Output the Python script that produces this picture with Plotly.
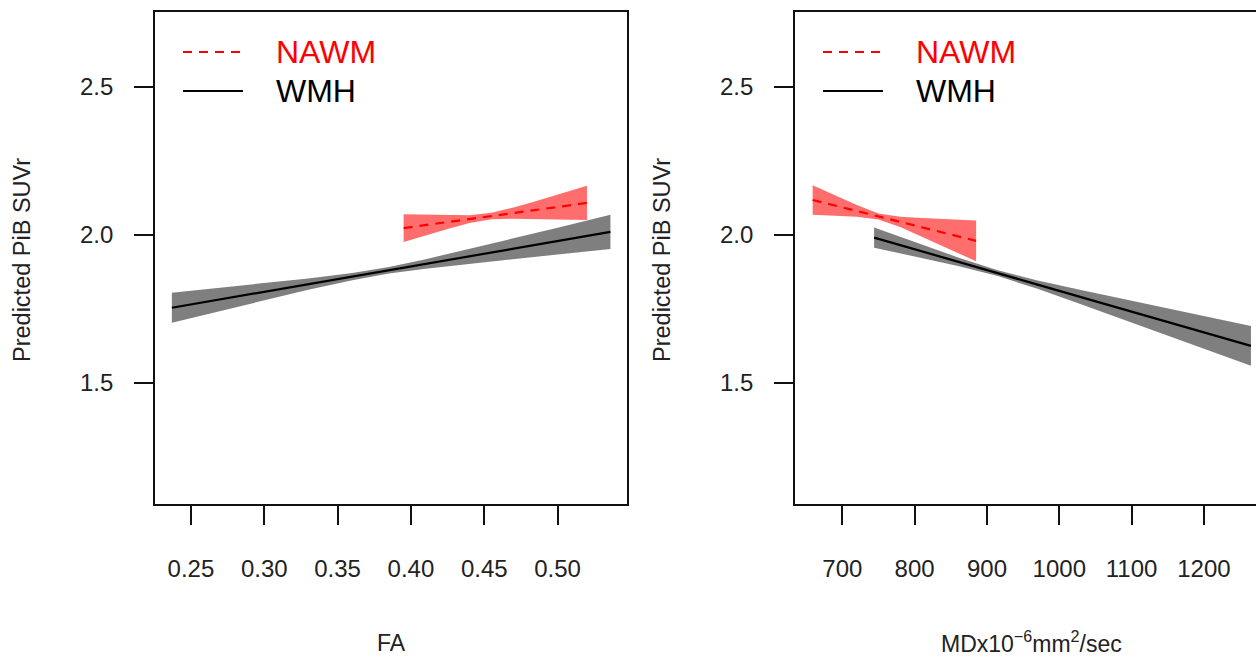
import plotly.graph_objects as go

W, H = 1256, 657
FONT = "Liberation Sans, Arial, Helvetica, sans-serif"

# ---------------- data ----------------
# Left panel: FA
fa_wmh_x = [0.237, 0.270, 0.300, 0.330, 0.360, 0.385, 0.410, 0.440, 0.470, 0.500, 0.536]
fa_wmh_fit = [1.754, 1.782, 1.808, 1.834, 1.859, 1.881, 1.902, 1.928, 1.953, 1.979, 2.010]
fa_wmh_up = [1.805, 1.822, 1.837, 1.853, 1.871, 1.892, 1.918, 1.953, 1.988, 2.024, 2.068]
fa_wmh_lo = [1.703, 1.743, 1.779, 1.815, 1.847, 1.870, 1.886, 1.903, 1.918, 1.934, 1.952]

fa_nawm_x = [0.395, 0.410, 0.425, 0.440, 0.455, 0.470, 0.485, 0.500, 0.520]
fa_nawm_fit = [2.023, 2.033, 2.043, 2.053, 2.064, 2.074, 2.084, 2.094, 2.108]
fa_nawm_up = [2.070, 2.068, 2.066, 2.066, 2.075, 2.093, 2.114, 2.136, 2.166]
fa_nawm_lo = [1.976, 1.998, 2.020, 2.040, 2.053, 2.055, 2.054, 2.052, 2.050]

# Right panel: MD
md_wmh_x = [744, 800, 860, 915, 970, 1030, 1090, 1150, 1210, 1265]
md_wmh_fit = [1.991, 1.951, 1.909, 1.871, 1.832, 1.790, 1.748, 1.706, 1.664, 1.625]
md_wmh_up = [2.025, 1.975, 1.924, 1.881, 1.846, 1.814, 1.783, 1.752, 1.721, 1.692]
md_wmh_lo = [1.957, 1.927, 1.895, 1.861, 1.818, 1.766, 1.713, 1.660, 1.607, 1.558]

md_nawm_x = [659, 690, 720, 750, 780, 810, 840, 885]
md_nawm_fit = [2.118, 2.099, 2.081, 2.062, 2.044, 2.026, 2.007, 1.980]
md_nawm_up = [2.168, 2.133, 2.101, 2.072, 2.061, 2.057, 2.053, 2.049]
md_nawm_lo = [2.068, 2.065, 2.061, 2.052, 2.027, 1.995, 1.961, 1.911]

fa_ticks = [0.25, 0.30, 0.35, 0.40, 0.45, 0.50]
fa_ticktext = ["0.25", "0.30", "0.35", "0.40", "0.45", "0.50"]
md_ticks = [700, 800, 900, 1000, 1100, 1200]
md_ticktext = ["700", "800", "900", "1000", "1100", "1200"]
y_ticks = [1.5, 2.0, 2.5]
y_ticktext = ["1.5", "2.0", "2.5"]

series_names = ["NAWM", "WMH"]
series_colors = ["#FF0000", "#000000"]
band_colors = ["rgba(255,40,40,0.68)", "#7f7f7f"]

# ---------------- layout geometry (pixels) ----------------
L_X0, L_X1 = 155, 627
R_X0, R_X1 = 795, 1256
Y_TOP, Y_BOT = 12, 504


def px(x):
    return x / W


def py(y):
    return 1 - y / H


fig = go.Figure()


def add_band(xs, up, lo, color, xa, ya):
    fig.add_trace(go.Scatter(
        x=list(xs) + list(xs)[::-1], y=list(up) + list(lo)[::-1],
        fill="toself", fillcolor=color, line=dict(width=0),
        mode="lines", hoverinfo="skip", showlegend=False, xaxis=xa, yaxis=ya))


def add_line(xs, ys, color, dash, xa, ya):
    fig.add_trace(go.Scatter(
        x=xs, y=ys, mode="lines", line=dict(color=color, width=2.2, dash=dash),
        showlegend=False, xaxis=xa, yaxis=ya))


# left panel
add_band(fa_wmh_x, fa_wmh_up, fa_wmh_lo, band_colors[1], "x", "y")
add_line(fa_wmh_x, fa_wmh_fit, series_colors[1], "solid", "x", "y")
add_band(fa_nawm_x, fa_nawm_up, fa_nawm_lo, band_colors[0], "x", "y")
add_line(fa_nawm_x, fa_nawm_fit, series_colors[0], "9px,7px", "x", "y")

# right panel
add_band(md_wmh_x, md_wmh_up, md_wmh_lo, band_colors[1], "x2", "y2")
add_line(md_wmh_x, md_wmh_fit, series_colors[1], "solid", "x2", "y2")
add_band(md_nawm_x, md_nawm_up, md_nawm_lo, band_colors[0], "x2", "y2")
add_line(md_nawm_x, md_nawm_fit, series_colors[0], "9px,7px", "x2", "y2")

axis_common = dict(
    showline=True, linecolor="#111111", linewidth=1.6,
    ticks="outside", ticklen=19, tickwidth=1.6, tickcolor="#111111",
    showgrid=False, zeroline=False,
    tickfont=dict(family=FONT, size=24, color="#222222"),
)

yrange = [1.091, 2.753]

fig.update_layout(
    width=W, height=H,
    margin=dict(l=0, r=0, t=0, b=0),
    paper_bgcolor="white", plot_bgcolor="white",
    showlegend=False,
    xaxis=dict(domain=[px(L_X0), px(L_X1)], range=[0.2255, 0.5473],
               tickmode="array", tickvals=fa_ticks, ticktext=fa_ticktext,
               mirror=True, anchor="y", ticklabelstandoff=23, **axis_common),
    yaxis=dict(domain=[py(Y_BOT), py(Y_TOP)], range=yrange,
               tickmode="array", tickvals=y_ticks, ticktext=y_ticktext,
               mirror=True, anchor="x", ticklabelstandoff=16, **axis_common),
    xaxis2=dict(domain=[px(R_X0), px(R_X1)], range=[634.6, 1272],
                tickmode="array", tickvals=md_ticks, ticktext=md_ticktext,
                mirror=True, anchor="y2", ticklabelstandoff=23, **axis_common),
    yaxis2=dict(domain=[py(Y_BOT), py(Y_TOP)], range=yrange,
                tickmode="array", tickvals=y_ticks, ticktext=y_ticktext,
                mirror=False, anchor="x2", ticklabelstandoff=16, **axis_common),
)

annotations = []
shapes = []
# axis titles
annotations.append(dict(x=px((L_X0 + L_X1) / 2), y=py(643), xref="paper", yref="paper",
                        text="FA", showarrow=False, xanchor="center", yanchor="middle",
                        font=dict(family=FONT, size=23, color="#222222")))
annotations.append(dict(x=px(1031), y=py(642), xref="paper", yref="paper",
                        text="MDx10<sup>\u22126</sup>mm<sup>2</sup>/sec", showarrow=False,
                        xanchor="center", yanchor="middle",
                        font=dict(family=FONT, size=23, color="#222222")))
for xc in (22, 662):
    annotations.append(dict(x=px(xc), y=py(260), xref="paper", yref="paper",
                            text="Predicted PiB SUVr", showarrow=False, textangle=-90,
                            xanchor="center", yanchor="middle",
                            font=dict(family=FONT, size=23.5, color="#222222")))

# legends (one per panel)
for x0 in (L_X0, R_X0):
    for name, color, dash, yline in zip(series_names, series_colors, ["dash", "solid"], [52, 91]):
        shapes.append(dict(type="line", xref="paper", yref="paper",
                           x0=px(x0 + 28), x1=px(x0 + 88), y0=py(yline), y1=py(yline),
                           line=dict(color=color, width=2,
                                     dash="9px,7px" if dash == "dash" else "solid")))
        annotations.append(dict(x=px(x0 + 119), y=py(yline), xref="paper", yref="paper",
                                text=name, showarrow=False, xanchor="left", yanchor="middle",
                                font=dict(family=FONT, size=32, color=color)))

fig.update_layout(annotations=annotations, shapes=shapes)

fig.write_html("out.html")
